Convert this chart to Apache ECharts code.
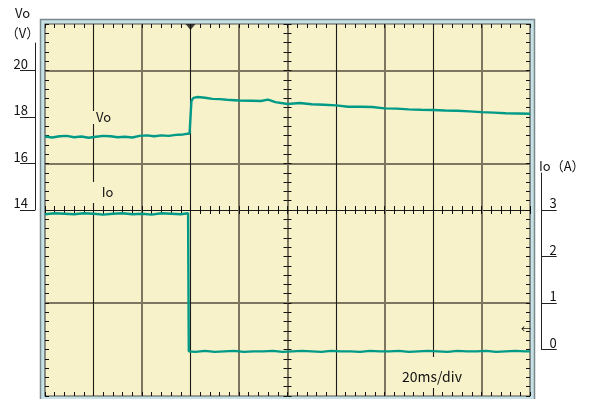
<!DOCTYPE html>
<html><head><meta charset="utf-8">
<script src="https://cdn.jsdelivr.net/npm/echarts@6/dist/echarts.min.js"></script>
<style>html,body{margin:0;padding:0;background:#fff}#c{width:591px;height:399px}</style>
</head><body><div id="c"></div>
<script>
// ---- data ----
const voTime = [0,3,6,9,12,15,18,21,24,27,30,33,36,39,42,45,48,51,54,57,59.6,60.4,61.2,63,66,69,72,75,80,85,89,92,95,100,105,110,115,120,125,130,135,140,145,150,155,160,165,170,175,180,185,190,195,200];
const voValues = [17.16,17.12,17.17,17.19,17.13,17.16,17.11,17.15,17.19,17.17,17.13,17.15,17.12,17.19,17.21,17.17,17.21,17.19,17.23,17.25,17.29,18.7,18.82,18.86,18.83,18.78,18.77,18.74,18.71,18.7,18.69,18.75,18.64,18.56,18.6,18.55,18.53,18.5,18.44,18.44,18.43,18.37,18.36,18.33,18.31,18.3,18.28,18.27,18.24,18.21,18.19,18.16,18.15,18.14];
const ioTime = [0,4,8,12,16,20,24,28,32,36,40,44,48,52,56,59,59.3,62,66,70,74,78,82,86,90,94,98,102,106,110,114,118,122,126,130,134,138,142,146,150,154,158,162,166,170,174,178,182,186,190,194,198,200];
const ioValues = [2.91,2.93,2.92,2.91,2.93,2.92,2.9,2.92,2.93,2.91,2.92,2.9,2.93,2.92,2.91,2.93,-0.04,-0.05,-0.03,-0.05,-0.04,-0.03,-0.05,-0.04,-0.04,-0.03,-0.05,-0.04,-0.03,-0.04,-0.05,-0.03,-0.04,-0.04,-0.05,-0.03,-0.04,-0.04,-0.03,-0.05,-0.04,-0.03,-0.04,-0.05,-0.03,-0.04,-0.04,-0.03,-0.05,-0.04,-0.03,-0.04,-0.04];
const triggerTime = [60];
const voTicks = [14,16,18,20];
const ioTicks = [0,1,2,3];
const timeDivLabel = '20ms/div';

// ---- layout ----
const G = {left:45, top:24, width:485, height:372};
const voPerPx = 16 / G.height;   // Vo axis 6..22
const ioPerPx = 8 / G.height;    // Io axis -1..7
const yOf = v => G.top + (22 - v) / voPerPx;
const yOfIo = a => G.top + (7 - a) / ioPerPx;
const voLabelTop = 43, ioLabelTop = 173;
const BG = '#f8f2ca';

const BLK = '#1c1c1c', GRY = '#7e7660', NONE = 'rgba(0,0,0,0)';
const xBlack = [NONE,BLK,NONE,BLK,NONE,NONE,BLK,NONE,BLK,NONE,NONE];
const xGrey  = [NONE,NONE,GRY,NONE,GRY,GRY,NONE,GRY,NONE,GRY,NONE];
const yBlack = [NONE,NONE,BLK,NONE,BLK,BLK,NONE,BLK,NONE];
const yGrey  = [NONE,GRY,NONE,GRY,NONE,NONE,GRY,NONE,NONE];

const FONT = '"Noto Sans CJK JP", "DejaVu Sans", sans-serif';
const tick = (inside) => ({show:true, inside, length:4, lineStyle:{color:'#111', width:1}});
const minor = {show:true, splitNumber:5, length:4, lineStyle:{color:'#111', width:1}};
const noLine = {show:false, onZero:false};

function xEdge(extra) {
  return Object.assign({type:'value', gridIndex:0, min:0, max:200, interval:20,
    axisLine:noLine, axisLabel:{show:false}, splitLine:{show:false}}, extra);
}
function yVo(extra) {
  return Object.assign({type:'value', gridIndex:0, min:6, max:22, interval:2,
    axisLine:noLine, axisLabel:{show:false}, splitLine:{show:false}}, extra);
}

const chart = echarts.init(document.getElementById('c'));
chart.setOption({
  animation:false,
  backgroundColor:'#ffffff',
  grid:[
    {left:G.left, top:G.top, width:G.width, height:G.height, show:true,
     backgroundColor:BG, borderColor:'#4f4f4f', borderWidth:1.2},
    {left:35, top:voLabelTop, width:1, height:yOf(14) - voLabelTop},
    {left:540.7, top:ioLabelTop, width:1, height:yOfIo(0) - ioLabelTop}
  ],
  xAxis:[
    xEdge({position:'bottom', axisTick:tick(true), minorTick:minor,
      splitLine:{show:true, showMinLine:true, showMaxLine:true, lineStyle:{color:xBlack, width:1.1}}}),
    xEdge({position:'top', axisTick:tick(true), minorTick:minor,
      splitLine:{show:true, showMinLine:true, showMaxLine:true, lineStyle:{color:xGrey, width:2}}}),
    xEdge({position:'bottom', offset:-(G.height/2), axisTick:tick(true), minorTick:minor}),
    xEdge({position:'bottom', offset:-(G.height/2), axisTick:tick(false), minorTick:minor}),
    {type:'value', gridIndex:1, show:false, min:0, max:1, axisLine:noLine},
    {type:'value', gridIndex:2, show:false, min:0, max:1, axisLine:noLine}
  ],
  yAxis:[
    yVo({position:'left', axisTick:tick(true), minorTick:minor,
      splitLine:{show:true, showMinLine:true, showMaxLine:true, lineStyle:{color:yBlack, width:1.1}}}),
    {type:'value', gridIndex:0, min:-1, max:7, interval:1, position:'right',
      axisLine:noLine, axisLabel:{show:false}, axisTick:tick(true), minorTick:minor,
      splitLine:{show:true, showMinLine:true, showMaxLine:true, lineStyle:{color:yGrey.slice().reverse(), width:2}}},
    yVo({position:'left', offset:-(G.width/2), axisTick:tick(true), minorTick:minor}),
    yVo({position:'left', offset:-(G.width/2), axisTick:tick(false), minorTick:minor}),
    {type:'value', gridIndex:1, position:'left', min:14, max:22 - (voLabelTop - G.top) * voPerPx, interval:2,
      axisLine:{show:true, onZero:false, lineStyle:{color:'#222', width:1}},
      axisTick:{show:true, inside:false, length:15, customValues:voTicks, lineStyle:{color:'#222', width:1}},
      axisLabel:{show:true, customValues:voTicks, align:'right', verticalAlign:'bottom', margin:7,
        color:'#111', fontSize:13, fontFamily:FONT},
      splitLine:{show:false}},
    {type:'value', gridIndex:2, position:'right', min:0, max:(yOfIo(0) - ioLabelTop) * ioPerPx, interval:1,
      axisLine:{show:true, onZero:false, lineStyle:{color:'#222', width:1}},
      axisTick:{show:true, inside:false, length:15, customValues:ioTicks, lineStyle:{color:'#222', width:1}},
      axisLabel:{show:true, customValues:ioTicks, align:'right', verticalAlign:'bottom', margin:15,
        color:'#111', fontSize:13, fontFamily:FONT},
      splitLine:{show:false}}
  ],
  series:[
    {type:'line', name:'Vo', xAxisIndex:0, yAxisIndex:0, showSymbol:false, z:5,
      data: voTime.map((t,i)=>[t, voValues[i]]),
      lineStyle:{color:'#009a87', width:2.4}},
    {type:'line', name:'Io', xAxisIndex:0, yAxisIndex:1, showSymbol:false, z:5,
      data: ioTime.map((t,i)=>[t, ioValues[i]]),
      lineStyle:{color:'#009a87', width:2.4}},
    {type:'scatter', name:'trigger', xAxisIndex:0, yAxisIndex:0, clip:false, z:6,
      data: triggerTime.map(t=>[t, 22]), symbol:'triangle', symbolRotate:180,
      symbolSize:[10,6], symbolOffset:[0,3], itemStyle:{color:'#111'}}
  ],
  graphic:[
    {type:'rect', z:-10, silent:true,
      shape:{x:40.5, y:19.5, width:494, height:390},
      style:{fill:'#c7e2e6', stroke:'#7a898b', lineWidth:1.5}},
    {type:'rect', z:90, silent:true, shape:{x:88, y:111, width:39, height:13}, style:{fill:BG}},
    {type:'rect', z:90, silent:true, shape:{x:87, y:182, width:41, height:21}, style:{fill:BG}},
    {type:'rect', z:90, silent:true, shape:{x:396, y:357, width:72, height:31}, style:{fill:BG}},
    {type:'text', z:100, style:{text:'Vo', x:22.5, y:13, align:'center', verticalAlign:'middle',
      fill:'#111', font:'13px ' + FONT}},
    {type:'text', z:100, style:{text:'（V）', x:22.5, y:33, align:'center', verticalAlign:'middle',
      fill:'#111', font:'13px ' + FONT}},
    {type:'text', z:100, style:{text:'Io（A）', x:539, y:166, align:'left', verticalAlign:'middle',
      fill:'#111', font:'13px ' + FONT}},
    {type:'text', z:100, style:{text:'Vo', x:103.5, y:117.5, align:'center', verticalAlign:'middle',
      fill:'#111', font:'13px ' + FONT}},
    {type:'text', z:100, style:{text:'Io', x:107.5, y:192, align:'center', verticalAlign:'middle',
      fill:'#111', font:'13px ' + FONT}},
    {type:'text', z:100, style:{text:timeDivLabel, x:432, y:377, align:'center', verticalAlign:'middle',
      fill:'#111', font:'14px ' + FONT}},
    {type:'text', z:100, style:{text:'←', x:526, y:329, align:'center', verticalAlign:'middle',
      fill:'#111', font:'10px ' + FONT}}
  ]
});
</script>
</body></html>
